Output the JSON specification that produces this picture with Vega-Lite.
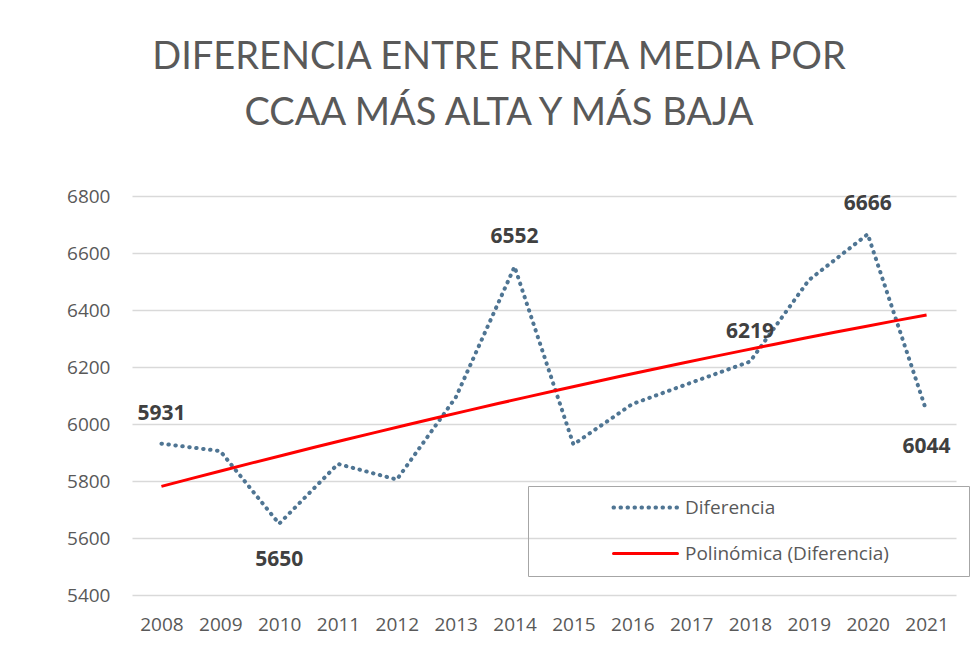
{
  "$schema": "https://vega.github.io/schema/vega-lite/v6.json",
  "width": 824,
  "height": 399,
  "autosize": {"type": "none"},
  "padding": {"left": 132, "top": 196, "right": 19, "bottom": 63},
  "background": "white",
  "title": {
    "text": ["DIFERENCIA ENTRE RENTA MEDIA POR", "CCAA MÁS ALTA Y MÁS BAJA"],
    "font": "Lato",
    "fontSize": 38,
    "fontWeight": "normal",
    "color": "#595959",
    "anchor": "middle",
    "frame": "group",
    "dx": -45,
    "offset": 54,
    "lineHeight": 56
  },
  "data": {
    "values": [
      {"year": 2008, "value": 5931},
      {"year": 2009, "value": 5905},
      {"year": 2010, "value": 5650},
      {"year": 2011, "value": 5860},
      {"year": 2012, "value": 5805},
      {"year": 2013, "value": 6093},
      {"year": 2014, "value": 6552},
      {"year": 2015, "value": 5928},
      {"year": 2016, "value": 6070},
      {"year": 2017, "value": 6145},
      {"year": 2018, "value": 6219},
      {"year": 2019, "value": 6505},
      {"year": 2020, "value": 6666},
      {"year": 2021, "value": 6044}
    ]
  },
  "encoding": {
    "x": {
      "field": "year",
      "type": "quantitative",
      "scale": {"domain": [2007.5, 2021.5], "nice": false, "zero": false},
      "axis": {
        "values": [2008, 2009, 2010, 2011, 2012, 2013, 2014, 2015, 2016, 2017, 2018, 2019, 2020, 2021],
        "format": "d",
        "grid": false,
        "ticks": false,
        "domain": false,
        "labelFont": "Open Sans",
        "labelFontSize": 19,
        "labelColor": "#595959",
        "labelPadding": 20,
        "title": null
      }
    },
    "y": {
      "field": "value",
      "type": "quantitative",
      "scale": {"domain": [5400, 6800], "nice": false, "zero": false},
      "axis": {
        "values": [5400, 5600, 5800, 6000, 6200, 6400, 6600, 6800],
        "format": "d",
        "grid": true,
        "gridColor": "#d9d9d9",
        "gridWidth": 1.5,
        "domain": false,
        "ticks": false,
        "labelFont": "Open Sans",
        "labelFontSize": 19,
        "labelColor": "#595959",
        "labelPadding": 22,
        "title": null
      }
    }
  },
  "layer": [
    {
      "mark": {"type": "line", "strokeDash": [0.5, 6.5], "strokeCap": "round", "strokeWidth": 4},
      "encoding": {
        "color": {
          "datum": "Diferencia",
          "scale": {"domain": ["Diferencia", "Polinómica (Diferencia)"], "range": ["#4f7593", "#ff0000"]},
          "legend": {
            "title": null,
            "orient": "none",
            "legendX": 396,
            "legendY": 290,
            "direction": "vertical",
            "strokeColor": "#a6a6a6",
            "padding": 12,
            "symbolType": "M-3.2,0H3.2M30.3,0",
            "symbolSize": 400,
            "symbolStrokeWidth": 4,
            "labelFont": "Open Sans",
            "labelFontSize": 19,
            "labelColor": "#595959",
            "labelLimit": 400,
            "rowPadding": 26,
            "symbolOffset": 96,
            "labelOffset": 30,
            "encoding": {
              "symbols": {
                "strokeDash": {"value": {"expr": "datum.value === 'Diferencia' ? [0.5, 6.5] : [1, 0]"}},
                "strokeCap": {"value": "round"},
                "strokeWidth": {"value": {"expr": "datum.value === 'Diferencia' ? 4 : 3"}}
              }
            }
          }
        }
      }
    },
    {
      "transform": [
        {"regression": "value", "on": "year", "method": "poly", "order": 2, "extent": [2008, 2021]}
      ],
      "mark": {"type": "line", "color": "#ff0000", "strokeWidth": 3},
      "encoding": {
        "color": {"datum": "Polinómica (Diferencia)"}
      }
    },
    {
      "transform": [{"filter": {"field": "year", "oneOf": [2008, 2014, 2018, 2020]}}],
      "mark": {"type": "text", "dy": -30, "font": "Open Sans", "fontSize": 21, "fontWeight": "bold", "color": "#404040", "baseline": "middle"},
      "encoding": {"text": {"field": "value", "type": "quantitative", "format": "d"}}
    },
    {
      "transform": [{"filter": {"field": "year", "oneOf": [2010, 2021]}}],
      "mark": {"type": "text", "dy": 36, "font": "Open Sans", "fontSize": 21, "fontWeight": "bold", "color": "#404040", "baseline": "middle"},
      "encoding": {"text": {"field": "value", "type": "quantitative", "format": "d"}}
    }
  ],
  "config": {
    "view": {"stroke": null}
  }
}
